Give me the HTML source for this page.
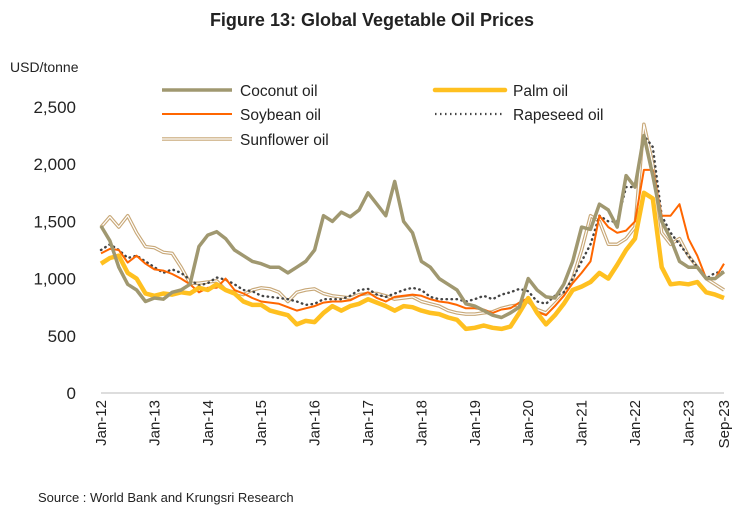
<!DOCTYPE html>
<html><head><meta charset="utf-8"><style>
body{margin:0;background:#fff;}
svg{display:block;font-family:"Liberation Sans",sans-serif;}
</style></head><body>
<svg id="chart" width="745" height="521">
<text x="372" y="26" text-anchor="middle" font-size="18" font-weight="bold" fill="#222">Figure 13: Global Vegetable Oil Prices</text>
<text x="10" y="72" font-size="14" fill="#222">USD/tonne</text>
<g id="yaxis"></g>
<g id="xaxis"></g>
<g id="series"></g>
<g font-size="15.5" fill="#222">
 <g><line x1="162" y1="90" x2="232" y2="90" stroke="#A09870" stroke-width="3.5"/><text x="240" y="96">Coconut oil</text></g>
 <g><line x1="435" y1="90" x2="505" y2="90" stroke="#FFC020" stroke-width="4.5" stroke-linecap="round"/><text x="513" y="96">Palm oil</text></g>
 <g><line x1="162" y1="114" x2="232" y2="114" stroke="#FF6600" stroke-width="2"/><text x="240" y="120">Soybean oil</text></g>
 <g><line x1="435" y1="114" x2="505" y2="114" stroke="#444" stroke-width="2.2" stroke-dasharray="1.5 3.5"/><text x="513" y="120">Rapeseed oil</text></g>
 <g><line x1="162" y1="139" x2="232" y2="139" stroke="#C8A878" stroke-width="3.5"/><line x1="162" y1="139" x2="232" y2="139" stroke="#fff" stroke-width="1.2"/><text x="240" y="145">Sunflower oil</text></g>
</g>
<text x="38" y="502" font-size="13" fill="#222">Source : World Bank and Krungsri Research</text>
</svg>
<script>
const categories=["Jan-12","Mar-12","May-12","Jul-12","Sep-12","Nov-12","Jan-13","Mar-13","May-13","Jul-13","Sep-13","Nov-13","Jan-14","Mar-14","May-14","Jul-14","Sep-14","Nov-14","Jan-15","Mar-15","May-15","Jul-15","Sep-15","Nov-15","Jan-16","Mar-16","May-16","Jul-16","Sep-16","Nov-16","Jan-17","Mar-17","May-17","Jul-17","Sep-17","Nov-17","Jan-18","Mar-18","May-18","Jul-18","Sep-18","Nov-18","Jan-19","Mar-19","May-19","Jul-19","Sep-19","Nov-19","Jan-20","Mar-20","May-20","Jul-20","Sep-20","Nov-20","Jan-21","Mar-21","May-21","Jul-21","Sep-21","Nov-21","Jan-22","Mar-22","May-22","Jul-22","Sep-22","Nov-22","Jan-23","Mar-23","May-23","Jul-23","Sep-23"];
const coconut=[1460,1330,1100,950,900,800,830,820,880,900,950,1280,1380,1410,1350,1250,1200,1150,1130,1100,1100,1050,1100,1150,1250,1550,1500,1580,1540,1600,1750,1650,1550,1850,1500,1400,1150,1100,1000,950,900,780,760,720,680,660,700,750,1000,900,840,830,950,1150,1450,1430,1650,1600,1450,1900,1800,2250,1900,1500,1350,1150,1100,1100,1000,1000,1060];
const palm=[1130,1180,1200,1050,1000,870,850,870,860,880,870,920,900,950,900,870,800,770,770,720,700,680,600,630,620,700,760,720,760,780,820,790,760,720,760,750,720,700,690,660,640,560,570,590,570,560,580,700,830,700,600,680,780,900,930,970,1050,1000,1120,1250,1350,1750,1700,1100,950,960,950,970,880,860,830];
const soybean=[1220,1260,1250,1140,1200,1130,1080,1070,1040,1000,950,880,920,920,1000,900,870,830,800,790,780,750,720,740,760,790,800,800,810,850,880,830,800,840,850,860,850,820,800,790,770,740,740,730,700,730,740,790,830,710,680,760,850,960,1050,1150,1550,1450,1400,1420,1500,1950,1950,1550,1550,1650,1350,1200,1000,1000,1130];
const rapeseed=[1250,1300,1250,1180,1200,1150,1100,1050,1080,1050,990,940,960,1010,990,950,900,890,850,840,830,820,800,770,780,820,820,820,850,900,910,860,840,870,900,920,900,840,820,820,820,800,820,850,820,860,880,910,890,800,780,850,880,1000,1150,1300,1550,1500,1500,1800,1800,2250,2150,1550,1400,1300,1200,1100,1000,1050,1060];
const sunflower=[1450,1540,1450,1550,1400,1280,1270,1230,1220,1100,960,960,970,980,900,880,860,900,920,910,880,800,880,900,910,870,850,840,830,860,870,870,850,820,830,840,800,780,760,720,700,690,690,700,710,740,760,770,800,730,700,780,860,1000,1250,1550,1500,1300,1300,1350,1450,2350,2000,1400,1300,1350,1200,1100,1000,950,900];
const yTicks=[0,500,1000,1500,2000,2500];
const yTickLabels=["0","500","1,000","1,500","2,000","2,500"];
const xTickLabels=["Jan-12","Jan-13","Jan-14","Jan-15","Jan-16","Jan-17","Jan-18","Jan-19","Jan-20","Jan-21","Jan-22","Jan-23","Sep-23"];

const NS="http://www.w3.org/2000/svg";
const X0=101,X1=724,Y0=393,Y2500=107;
function y(v){return Y0-(v/2500)*(Y0-Y2500);}
function xIdx(i){return X0+(i/(categories.length-1))*(X1-X0);}
function xCat(c){const i=categories.indexOf(c);return xIdx(i);}
const yAxis=document.getElementById('yaxis');
yTicks.forEach((t,k)=>{
  const tx=document.createElementNS(NS,'text');
  tx.setAttribute('x',76);tx.setAttribute('y',y(t)+6);
  tx.setAttribute('text-anchor','end');tx.setAttribute('font-size','17');tx.setAttribute('fill','#222');
  tx.textContent=yTickLabels[k];
  
  
  yAxis.appendChild(tx);
});
const base=document.createElementNS(NS,'line');
base.setAttribute('x1',X0);base.setAttribute('x2',X1);base.setAttribute('y1',Y0);base.setAttribute('y2',Y0);
base.setAttribute('stroke','#bbb');base.setAttribute('stroke-width','1');


yAxis.appendChild(base);
const xAxis=document.getElementById('xaxis');
xTickLabels.forEach(l=>{
  const cx=xCat(l)+5;
  const tx=document.createElementNS(NS,'text');
  tx.setAttribute('transform','translate('+cx+',400) rotate(-90)');
  tx.setAttribute('text-anchor','end');tx.setAttribute('font-size','15');tx.setAttribute('fill','#222');
  tx.textContent=l;
  
  
  xAxis.appendChild(tx);
});
const g=document.getElementById('series');
function pts(arr){return arr.map((v,i)=>xIdx(i).toFixed(1)+','+y(v).toFixed(1)).join(' ');}
function line(arr,stroke,w,name,dash){
  const p=document.createElementNS(NS,'polyline');
  p.setAttribute('points',pts(arr));p.setAttribute('fill','none');
  p.setAttribute('stroke',stroke);p.setAttribute('stroke-width',w);
  p.setAttribute('stroke-linejoin','round');
  if(dash){p.setAttribute('stroke-dasharray',dash);p.setAttribute('stroke-linecap','round');}
  
  
  g.appendChild(p);
}
line(sunflower,'#C8A878',3.5,'sunflower-line');
line(sunflower,'#fff',1.2,'sunflower-line-inner');
line(rapeseed,'#444',2.4,'rapeseed-line','0.5 4.5');
line(soybean,'#FF6600',2,'soybean-line');
line(palm,'#FFC020',4.5,'palm-line');
line(coconut,'#A09870',3.5,'coconut-line');
</script>
</body></html>
